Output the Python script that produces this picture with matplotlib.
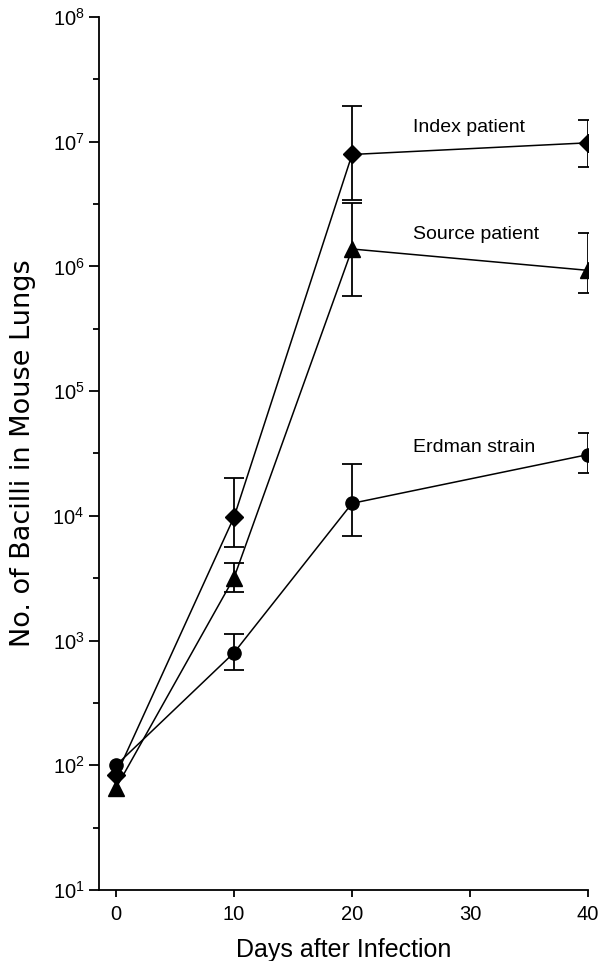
import numpy as np
import matplotlib
matplotlib.use('Agg')
import matplotlib.pyplot as plt
from matplotlib.ticker import FixedLocator, NullFormatter

plt.rcParams['font.family'] = ['Liberation Sans', 'DejaVu Sans']
plt.rcParams['mathtext.fontset'] = 'custom'
plt.rcParams['mathtext.rm'] = 'Liberation Sans'
plt.rcParams['mathtext.it'] = 'Liberation Sans:italic'
plt.rcParams['mathtext.bf'] = 'Liberation Sans:bold'

days = [0, 10, 20, 40]
err_days = [10, 20, 40]

index_mean = [83, 9.8e3, 7.9e6, 9.8e6]
index_lo = [5.6e3, 3.4e6, 6.3e6]
index_hi = [2.0e4, 1.95e7, 1.5e7]

source_mean = [66, 3.2e3, 1.38e6, 9.3e5]
source_lo = [2.45e3, 5.8e5, 6.1e5]
source_hi = [4.2e3, 3.2e6, 1.86e6]

erdman_mean = [100, 800, 1.26e4, 3.1e4]
erdman_lo = [580, 6.9e3, 2.2e4]
erdman_hi = [1.12e3, 2.6e4, 4.6e4]

series = [
    ('Index patient', index_mean, index_lo, index_hi, 'D', 9, 1.30e7),
    ('Source patient', source_mean, source_lo, source_hi, '^', 11, 1.80e6),
    ('Erdman strain', erdman_mean, erdman_lo, erdman_hi, 'o', 9.5, 3.55e4),
]

fig = plt.figure(figsize=(6, 9.61), dpi=100)
ax = fig.add_axes([0.165, 0.0739, 0.815, 0.9084])

for label, mean, lo, hi, marker, ms, ty in series:
    ax.plot(days, mean, color='black', lw=1.1, marker=marker, ms=ms, zorder=3)
    m = np.array(mean[1:])
    yerr = [m - np.array(lo), np.array(hi) - m]
    ax.errorbar(err_days, m, yerr=yerr, fmt='none', ecolor='black',
                elinewidth=1.3, capsize=7, capthick=1.3, zorder=2)
    ax.text(25.2, ty, label, ha='left', va='center', fontsize=14)

ax.set_yscale('log')
ax.set_xlim(-1.45, 40)
ax.set_ylim(10, 1e8)
ax.set_xticks([0, 10, 20, 30, 40])
ax.yaxis.set_major_locator(FixedLocator([10.0 ** k for k in range(1, 9)]))
ax.yaxis.set_minor_locator(FixedLocator([10.0 ** (k + 0.5) for k in range(1, 8)]))
ax.yaxis.set_minor_formatter(NullFormatter())

for s in ['top', 'right']:
    ax.spines[s].set_visible(False)
for s in ['left', 'bottom']:
    ax.spines[s].set_linewidth(1.3)

ax.tick_params(axis='both', which='major', labelsize=14.5, width=1.3, color='black')
ax.tick_params(axis='y', which='major', length=7)
ax.tick_params(axis='y', which='minor', length=4.5, width=1.3)
ax.tick_params(axis='x', which='major', length=5, pad=6)
ax.tick_params(axis='x', which='minor', bottom=False)

ax.set_xlabel('Days after Infection', fontsize=18, labelpad=10)
ax.set_ylabel('No. of Bacilli in Mouse Lungs', fontsize=19.5, labelpad=12,
              family=['DejaVu Sans'])

fig.savefig('out.png', dpi=100)
